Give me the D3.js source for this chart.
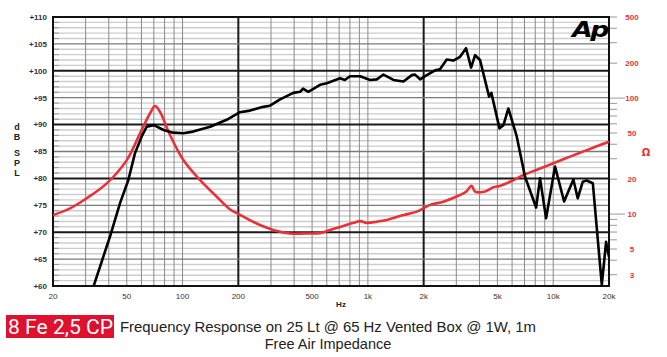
<!DOCTYPE html>
<html><head><meta charset="utf-8">
<script src="https://cdn.jsdelivr.net/npm/d3@7"></script>
<style>html,body{margin:0;padding:0;background:#fff;}svg{display:block;}</style>
</head><body>
<svg id="c" width="667" height="357"></svg>
<script>
// ---- data ----
const splFreq = [33,40.6,46,51,55.4,60.2,64,70,79,89,101,114,141,173,204,231,273,295,336,396,431,447,477,552,600,708,751,801,908,1028,1118,1213,1374,1556,1726,1797,1914,2079,2306,2449,2664,2892,3143,3387,3606,3788,4029,4508,4637,5132,5390,5729,6356,7045,8085,8492,9152,10230,11450,12850,13560,14440,15130,16360,18290,19290,20000];
const splDb = [59.8,69.2,75.4,79.7,84.7,87.8,89.6,89.9,89.0,88.5,88.4,88.7,89.6,90.9,92.3,92.6,93.3,93.5,94.7,95.9,96.1,96.7,96.1,97.4,97.7,98.6,98.3,99.0,99.0,98.3,98.4,99.3,98.3,98.0,99.2,99.3,98.4,99.2,100.1,100.3,102.1,101.9,102.6,104.2,100.6,102.9,102.0,95.2,95.9,89.3,89.9,93.0,87.8,80.3,74.6,80.0,72.6,82.2,75.7,79.8,76.3,79.4,79.6,79.1,60.2,68.2,65.4];
const impFreq = [20,24.7,30.4,39,50,59,66.8,71.1,75.6,85.6,101,124,153,180,196,213,251,309,380,455,552,625,738,835,908,986,1118,1264,1556,1835,2168,2555,3143,3387,3630,3788,4240,4755,5150,5850,6904,8100,10020,12330,15170,17900,20000];
const impOhm = [9.8,11.2,13.7,18.4,29.2,49.7,74,85.5,76,48,29.2,19.7,14.1,11.0,10.2,9.5,8.3,7.3,6.8,6.8,6.85,7.3,7.9,8.4,8.7,8.4,8.6,8.9,9.8,10.5,12.0,12.8,14.6,15.6,17.5,15.6,15.6,17.0,17.5,19.0,21.7,24.0,27.4,31.3,35.6,39.4,42];
const freqTickLabels = ["20","50","100","200","500","1k","2k","5k","10k","20k"];
const freqTickValues = [20,50,100,200,500,1000,2000,5000,10000,20000];
const dbTickValues = [60,65,70,75,80,85,90,95,100,105,110];
const ohmTickValues = [500,200,100,50,20,10,5,3];

// ---- layout ----
const L=53,R=609,T=17,B=286;
const svg=d3.select("#c");
const x=d3.scaleLog().domain([20,20000]).range([L,R]);
const y=d3.scaleLinear().domain([60,110]).range([B,T]);
const zMin=500/Math.pow(10,(B-T)/116);
const yz=d3.scaleLog().domain([zMin,500]).range([B,T]);

const g=svg.append("g");
// minor horizontal lines (every 1 dB)
const minorDb=d3.range(61,110).filter(d=>d%5!==0);
g.selectAll(".hm").data(minorDb).enter().append("line")
 .attr("x1",L).attr("x2",R).attr("y1",d=>y(d)).attr("y2",d=>y(d))
 .attr("stroke","#cdcdcd").attr("stroke-width",1.4);
// left little ticks
g.selectAll(".lt").data(minorDb).enter().append("line")
 .attr("x1",L).attr("x2",L+6).attr("y1",d=>y(d)).attr("y2",d=>y(d))
 .attr("stroke","#999").attr("stroke-width",1);
// vertical grid lines
const vf=[];
[10,100,1000,10000].forEach(dec=>{for(let m=1;m<10;m++){const f=dec*m;if(f>20&&f<20000)vf.push(f);}});
g.selectAll(".v").data(vf).enter().append("line")
 .attr("x1",d=>x(d)).attr("x2",d=>x(d)).attr("y1",T).attr("y2",B)
 .attr("stroke",d=>(d===200||d===2000)?"#1a1a1a":"#8a8a8a")
 .attr("stroke-width",d=>(d===200||d===2000)?2:1);
// 5 dB medium lines
g.selectAll(".h5").data([65,75,85,95,105]).enter().append("line")
 .attr("x1",L).attr("x2",R).attr("y1",d=>y(d)).attr("y2",d=>y(d))
 .attr("stroke","#7a7a7a").attr("stroke-width",1.3);
// 10 dB thick lines
g.selectAll(".h10").data([70,80,90,100]).enter().append("line")
 .attr("x1",L).attr("x2",R).attr("y1",d=>y(d)).attr("y2",d=>y(d))
 .attr("stroke","#1a1a1a").attr("stroke-width",2);
// border
g.append("rect").attr("x",L).attr("y",T).attr("width",R-L).attr("height",B-T)
 .attr("fill","none").attr("stroke","#111").attr("stroke-width",2);

// left axis labels
svg.append("g").selectAll("text").data(dbTickValues).enter().append("text")
 .attr("x",L-6).attr("y",d=>y(d)).attr("dy","0.35em").attr("text-anchor","end")
 .attr("font-family","Liberation Sans, Arial, sans-serif").attr("font-weight","bold")
 .attr("font-size",8).attr("fill","#333").text(d=>"+"+d);
// dB SPL letters
const letters=[["d",127],["B",137],["S",153],["P",163],["L",173]];
svg.append("g").selectAll("text").data(letters).enter().append("text")
 .attr("x",17).attr("y",d=>d[1]).attr("dy","0.35em").attr("text-anchor","middle")
 .attr("font-family","Liberation Sans, Arial, sans-serif").attr("font-weight","bold")
 .attr("font-size",9).attr("fill","#222").text(d=>d[0]);

// bottom labels
svg.append("g").selectAll("text").data(freqTickValues).enter().append("text")
 .attr("x",d=>x(d)).attr("y",299).attr("text-anchor","middle")
 .attr("font-family","Liberation Sans, Arial, sans-serif")
 .attr("font-size",8).attr("fill","#333").text((d,i)=>freqTickLabels[i]);
svg.append("text").attr("x",341).attr("y",307).attr("text-anchor","middle")
 .attr("font-family","Liberation Sans, Arial, sans-serif").attr("font-weight","bold")
 .attr("font-size",8).attr("fill","#222").text("Hz");

// right axis ticks
const minorOhm=[];
[1,10,100].forEach(dec=>{for(let m=1;m<10;m++){const v=dec*m;if(v>=zMin&&v<=500)minorOhm.push(v);}});
svg.append("g").selectAll("line").data(minorOhm).enter().append("line")
 .attr("x1",R+1).attr("x2",d=>(d===100||d===10)?R+16:R+8)
 .attr("y1",d=>yz(d)).attr("y2",d=>yz(d)).attr("stroke","#999").attr("stroke-width",1);
svg.append("g").selectAll("text").data(ohmTickValues).enter().append("text")
 .attr("x",632).attr("y",d=>yz(d)).attr("dy","0.35em").attr("text-anchor","middle")
 .attr("font-family","Liberation Sans, Arial, sans-serif").attr("font-weight","bold")
 .attr("font-size",8).attr("fill","#e8323a").text(d=>d);
svg.append("text").attr("x",646).attr("y",152).attr("dy","0.35em").attr("text-anchor","middle")
 .attr("font-family","DejaVu Sans, sans-serif").attr("font-weight","bold")
 .attr("font-size",10).attr("fill","#e8323a").text("Ω");

// Ap logo
svg.append("text").attr("x",572).attr("y",37)
 .attr("font-family","DejaVu Sans, sans-serif").attr("font-weight","bold").attr("font-style","italic")
 .attr("font-size",22).attr("textLength",35).attr("lengthAdjust","spacingAndGlyphs")
 .attr("letter-spacing",-2).attr("fill","#000").text("Ap");

// curves
svg.append("clipPath").attr("id","clip").append("rect").attr("x",L).attr("y",T).attr("width",R-L).attr("height",B-T);
const imp=impFreq.map((f,i)=>[f,impOhm[i]]);
const spl=splFreq.map((f,i)=>[f,splDb[i]]);
svg.append("path").datum(imp).attr("clip-path","url(#clip)")
 .attr("d",d3.line().x(d=>x(d[0])).y(d=>yz(d[1])).curve(d3.curveCatmullRom.alpha(0.5)))
 .attr("fill","none").attr("stroke","#e8323a").attr("stroke-width",2.6).attr("stroke-linejoin","round");
svg.append("path").datum(spl).attr("clip-path","url(#clip)")
 .attr("d",d3.line().x(d=>x(d[0])).y(d=>y(d[1])))
 .attr("fill","none").attr("stroke","#000").attr("stroke-width",2.6).attr("stroke-linejoin","round");

// caption
svg.append("rect").attr("x",6).attr("y",315).attr("width",108).attr("height",23).attr("fill","#e0102f");
svg.append("text").attr("x",8).attr("y",334)
 .attr("font-family","Roboto, Liberation Sans, sans-serif").attr("font-size",21)
 .attr("textLength",105).attr("lengthAdjust","spacingAndGlyphs")
 .attr("fill","#fff").text("8 Fe 2,5 CP");
svg.append("text").attr("x",120).attr("y",332)
 .attr("font-family","Liberation Sans, Arial, sans-serif").attr("font-size",14.5)
 .attr("textLength",416).attr("lengthAdjust","spacingAndGlyphs")
 .attr("fill","#222").text("Frequency Response on 25 Lt @ 65 Hz Vented Box @ 1W, 1m");
svg.append("text").attr("x",328).attr("y",348.5).attr("text-anchor","middle")
 .attr("font-family","Liberation Sans, Arial, sans-serif").attr("font-size",14.5)
 .attr("fill","#222").text("Free Air Impedance");
</script>
</body></html>
